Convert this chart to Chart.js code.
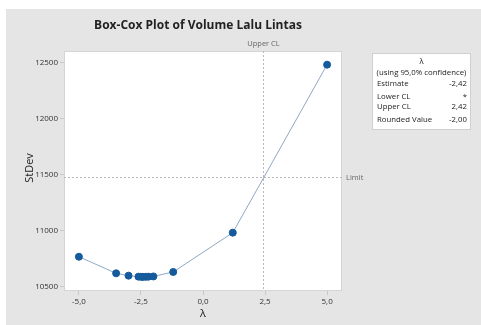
<!DOCTYPE html>
<html>
<head>
<meta charset="utf-8">
<script src="https://cdn.jsdelivr.net/npm/chart.js@4"></script>
<style>
  body { margin: 0; background: #fff; }
  #wrap { width: 481px; height: 325px; }
</style>
</head>
<body>
<div id="wrap"><canvas id="boxcox" width="481" height="325"></canvas></div>
<script>
// Box-Cox values
const lambdas = [-5.0, -3.5, -3.0, -2.6, -2.5, -2.42, -2.3, -2.2, -2.0, -1.2, 1.2, 5.0];
const stdevs  = [10770, 10622, 10601, 10592, 10591, 10590, 10591, 10592, 10594, 10634, 10985, 12485];
const xTicks = [-5.0, -2.5, 0.0, 2.5, 5.0];
const yTicks = [10500, 11000, 11500, 12000, 12500];
const upperCL = 2.42;
const limit = 11480;
const legendRows = [
  ['Estimate', '-2,42'],
  ['Lower CL', '*'],
  ['Upper CL', '2,42'],
  ['Rounded Value', '-2,00']
];

const FONT = '"Open Sans", "Noto Sans", sans-serif';
const comma = v => v.toFixed(1).replace('.', ',');

const decor = {
  id: 'decor',
  beforeDraw(chart) {
    const c = chart.ctx;
    c.save();
    c.fillStyle = '#e5e5e5';
    c.fillRect(6, 9, 475, 316);
    const a = chart.chartArea;
    c.fillStyle = '#fff';
    c.fillRect(a.left, a.top, a.right - a.left, a.bottom - a.top);
    c.strokeStyle = '#d4d4d4';
    c.lineWidth = 1;
    c.strokeRect(a.left + 0.5, a.top + 0.5, a.right - a.left - 1, a.bottom - a.top - 1);
    c.restore();
  },
  beforeDatasetsDraw(chart) {
    const c = chart.ctx;
    const a = chart.chartArea;
    const xs = chart.scales.x, ys = chart.scales.y;
    c.save();
    c.strokeStyle = '#b8b8b8';
    c.setLineDash([2, 2]);
    c.lineWidth = 1;
    const ux = Math.round(xs.getPixelForValue(upperCL)) + 0.5;
    c.beginPath(); c.moveTo(ux, a.top); c.lineTo(ux, a.bottom); c.stroke();
    const ly = Math.round(ys.getPixelForValue(limit)) + 0.5;
    c.beginPath(); c.moveTo(a.left, ly); c.lineTo(a.right, ly); c.stroke();
    c.setLineDash([]);
    c.fillStyle = '#666';
    c.font = '7.5px ' + FONT;
    c.textAlign = 'center';
    c.textBaseline = 'middle';
    c.fillText('Upper CL', ux, a.top - 7);
    c.textAlign = 'left';
    c.fillText('Limit', a.right + 4, ly);
    c.restore();
  },
  afterDraw(chart) {
    const c = chart.ctx;
    c.save();
    // title
    c.fillStyle = '#222';
    c.font = 'bold 12px ' + FONT;
    c.textAlign = 'center';
    c.textBaseline = 'middle';
    c.fillText('Box-Cox Plot of Volume Lalu Lintas', 198, 26);
    // axis titles
    c.font = '11px ' + FONT;
    c.fillText('\u03bb', 203, 314);
    c.translate(30, 168);
    c.rotate(-Math.PI / 2);
    c.fillText('StDev', 0, 0);
    c.restore();

    // legend box
    c.save();
    const bx = 372, by = 53, bw = 99, bh = 77;
    c.fillStyle = '#fff';
    c.fillRect(bx, by, bw, bh);
    c.strokeStyle = '#d0d0d0';
    c.strokeRect(bx + 0.5, by + 0.5, bw - 1, bh - 1);
    c.fillStyle = '#222';
    c.font = '7.8px ' + FONT;
    c.textBaseline = 'middle';
    c.textAlign = 'center';
    c.fillText('\u03bb', bx + bw / 2, 62);
    c.fillText('(using 95,0% confidence)', bx + bw / 2, 73);
    const rowY = [84, 97, 107, 120];
    legendRows.forEach((r, i) => {
      c.textAlign = 'left';
      c.fillText(r[0], bx + 5, rowY[i]);
      c.textAlign = 'right';
      c.fillText(r[1], bx + bw - 4, rowY[i]);
    });
    c.restore();
  }
};

new Chart(document.getElementById('boxcox'), {
  type: 'scatter',
  data: {
    datasets: [{
      data: lambdas.map((l, i) => ({ x: l, y: stdevs[i] })),
      showLine: true,
      borderColor: '#8fa9c4',
      borderWidth: 1,
      pointBackgroundColor: '#155a9c',
      pointBorderColor: '#155a9c',
      pointRadius: 3.5,
      pointHoverRadius: 3.5
    }]
  },
  options: {
    responsive: false,
    animation: false,
    events: [],
    layout: { padding: { left: 0, right: 139, top: 51, bottom: 0 } },
    plugins: { legend: { display: false }, tooltip: { enabled: false } },
    scales: {
      x: {
        type: 'linear',
        min: -5.6,
        max: 5.6,
        afterBuildTicks: s => { s.ticks = xTicks.map(v => ({ value: v })); },
        afterFit: s => { s.height = 34; },
        border: { display: false },
        grid: { drawOnChartArea: false, tickLength: 4, color: '#c8c8c8' },
        ticks: {
          padding: 2,
          color: '#333',
          font: { family: FONT, size: 8 },
          callback: v => comma(v),
          maxRotation: 0
        }
      },
      y: {
        min: 10464,
        max: 12607,
        afterBuildTicks: s => { s.ticks = yTicks.map(v => ({ value: v })); },
        afterFit: s => { s.width = 64; },
        border: { display: false },
        grid: { drawOnChartArea: false, tickLength: 4, color: '#c8c8c8' },
        ticks: {
          padding: 2,
          color: '#333',
          font: { family: FONT, size: 8 },
          autoSkip: false,
          callback: v => String(v)
        }
      }
    }
  },
  plugins: [decor]
});
</script>
</body>
</html>
